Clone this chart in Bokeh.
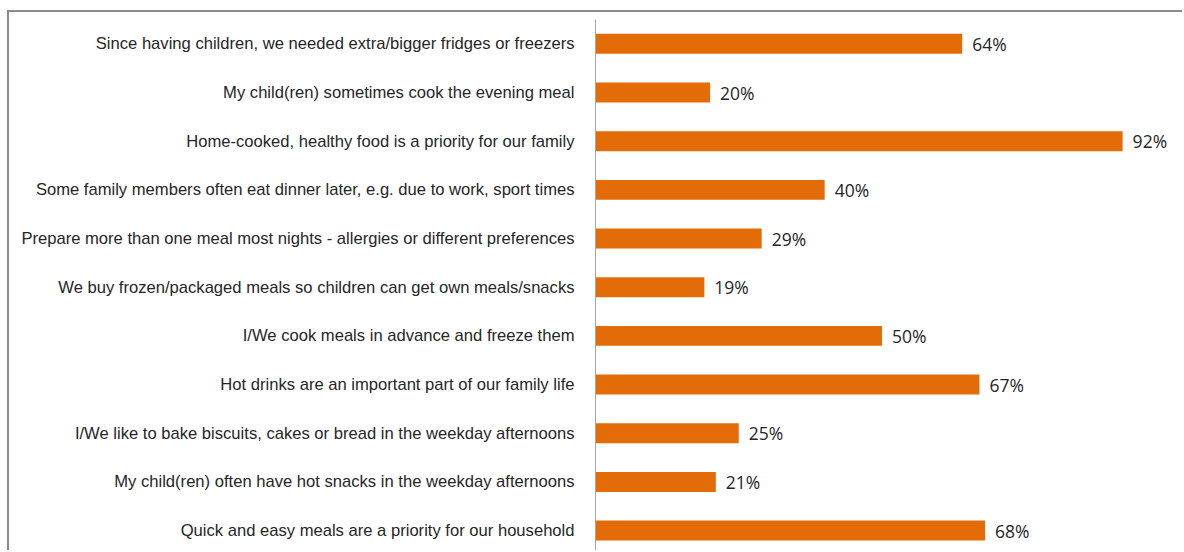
from bokeh.plotting import figure
from bokeh.models import Range1d, FixedTicker, ColumnDataSource
from bokeh.core.properties import value
from bokeh.embed import file_html
from bokeh.resources import INLINE

categories = [
    "Since having children, we needed extra/bigger fridges or freezers",
    "My child(ren) sometimes cook the evening meal",
    "Home-cooked, healthy food is a priority for our family",
    "Some family members often eat dinner later, e.g. due to work, sport times",
    "Prepare more than one meal most nights - allergies or different preferences",
    "We buy frozen/packaged meals so children can get own meals/snacks",
    "I/We cook meals in advance and freeze them",
    "Hot drinks are an important part of our family life",
    "I/We like to bake biscuits, cakes or bread in the weekday afternoons",
    "My child(ren) often have hot snacks in the weekday afternoons",
    "Quick and easy meals are a priority for our household",
]
values = [64, 20, 92, 40, 29, 19, 50, 67, 25, 21, 68]

idx = list(range(len(categories)))
src = ColumnDataSource(dict(
    y=idx,
    v=values,
    lbl=[f"{v}%" for v in values],
))

p = figure(
    width=1175, height=540,
    output_backend="svg", toolbar_location=None,
    x_range=Range1d(0, 102.8), y_range=Range1d(10.45, -0.5),
    min_border_left=586, min_border_right=0, min_border_top=7, min_border_bottom=0,
)
p.styles = {
    "margin-left": "7px", "margin-top": "10px",
    "border-left": "2px solid #8c8c8c", "border-top": "2px solid #8c8c8c",
}
p.outline_line_color = None
p.xgrid.visible = False
p.ygrid.visible = False
p.xaxis.visible = False
p.background_fill_color = "white"
p.border_fill_color = "white"

p.hbar(y="y", left=0, right="v", height=0.41, source=src,
       fill_color="#E36C09", line_color=None)
p.text(x="v", y="y", text="lbl", source=src, x_offset=10,
       text_baseline="middle", text_align="left",
       text_font=value("Open Sans"), text_font_size="17.5px", text_color="#262626")

ya = p.yaxis[0]
ya.ticker = FixedTicker(ticks=idx)
ya.major_label_overrides = {i: c for i, c in zip(idx, categories)}
ya.major_tick_line_color = None
ya.minor_tick_line_color = None
ya.major_tick_out = 0
ya.major_label_standoff = 21
ya.axis_line_color = "#a6a6a6"
ya.axis_line_width = 1
ya.major_label_text_font = "Liberation Sans"
ya.major_label_text_font_size = "16.6px"
ya.major_label_text_color = "#262626"

open("out.html", "w").write(file_html(p, INLINE))
